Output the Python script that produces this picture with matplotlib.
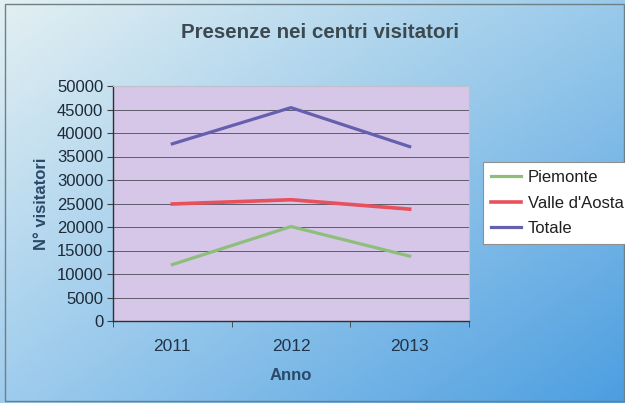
import numpy as np
import matplotlib
matplotlib.use("Agg")
import matplotlib.pyplot as plt
from matplotlib.ticker import FixedLocator, NullFormatter

plt.rcParams["font.family"] = ["Liberation Sans", "DejaVu Sans"]

years = ["2011", "2012", "2013"]
piemonte = [12000, 20100, 13800]
valle_aosta = [24900, 25800, 23800]
totale = [37700, 45400, 37100]

fig = plt.figure(figsize=(6.25, 4.03), dpi=100)

# Figure background: bilinear gradient from pale cyan (top-left) to blue (right)
bg = fig.add_axes([0, 0, 1, 1], zorder=-2)
h, w = 100, 160
yy, xx = np.mgrid[0:1:h * 1j, 0:1:w * 1j]
tl = np.array([0.89, 0.94, 0.95])
tr = np.array([0.60, 0.79, 0.92])
bl = np.array([0.62, 0.80, 0.93])
br = np.array([0.30, 0.62, 0.88])
img = ((1 - xx)[..., None] * (1 - yy)[..., None] * tl
       + xx[..., None] * (1 - yy)[..., None] * tr
       + (1 - xx)[..., None] * yy[..., None] * bl
       + xx[..., None] * yy[..., None] * br)
bg.imshow(img, aspect="auto", extent=[0, 1, 0, 1], origin="upper")
bg.set_axis_off()
bg.add_patch(plt.Rectangle((0.008, 0.004), 0.990, 0.986, fill=False,
                           edgecolor="#6f7f86", linewidth=1.0,
                           transform=bg.transAxes))

# Plot area
left, right, top, bottom = 113, 469, 86, 321
W, H = 625, 403
ax = fig.add_axes([left / W, 1 - bottom / H, (right - left) / W, (bottom - top) / H])
ax.set_facecolor("#d6c6e8")

x = np.arange(len(years))
ax.plot(x, piemonte, color="#8dbf7a", lw=2.3, label="Piemonte")
ax.plot(x, valle_aosta, color="#e8505c", lw=2.6, label="Valle d'Aosta")
ax.plot(x, totale, color="#6560ae", lw=2.3, label="Totale")

ax.set_xlim(-0.5, 2.5)
ax.set_ylim(0, 50000)
ax.set_yticks(np.arange(0, 50001, 5000))
ax.yaxis.grid(True, color="#5c5c6c", linewidth=0.7)
ax.set_axisbelow(True)

ax.set_xticks(x)
ax.set_xticklabels(years)
ax.xaxis.set_minor_locator(FixedLocator([-0.5, 0.5, 1.5, 2.5]))
ax.xaxis.set_minor_formatter(NullFormatter())
ax.tick_params(axis="x", which="major", length=0, pad=13,
               labelsize=12.5, labelcolor="#22344a")
ax.tick_params(axis="x", which="minor", length=4, color="#404040")
ax.tick_params(axis="y", length=4, color="#404040", pad=3,
               labelsize=12, labelcolor="#1e2a38")

for side in ("top", "right"):
    ax.spines[side].set_color("#c0c0cc")
    ax.spines[side].set_linewidth(0.8)
for side in ("left", "bottom"):
    ax.spines[side].set_color("#303030")
    ax.spines[side].set_linewidth(1.0)

ax.set_xlabel("Anno", fontsize=12, fontweight="bold", color="#2a4a68", labelpad=10)
ax.set_ylabel("N° visitatori", fontsize=12, fontweight="bold", color="#2a4a68", labelpad=6)

fig.text(320 / W, 1 - 33 / H, "Presenze nei centri visitatori", ha="center",
         va="center", fontsize=14.8, fontweight="bold", color="#3c4a50")

leg = fig.legend(loc="upper left", bbox_to_anchor=(483 / W, 1 - 162 / H),
                 frameon=True, fancybox=False, fontsize=12, framealpha=1,
                 handlelength=1.8, handletextpad=0.4, borderpad=0.5,
                 labelspacing=0.62, borderaxespad=0)
leg.get_frame().set_facecolor("white")
leg.get_frame().set_edgecolor("#909090")
leg.get_frame().set_linewidth(0.8)
for t in leg.get_texts():
    t.set_color("#202020")

fig.savefig("out.png", dpi=100)
